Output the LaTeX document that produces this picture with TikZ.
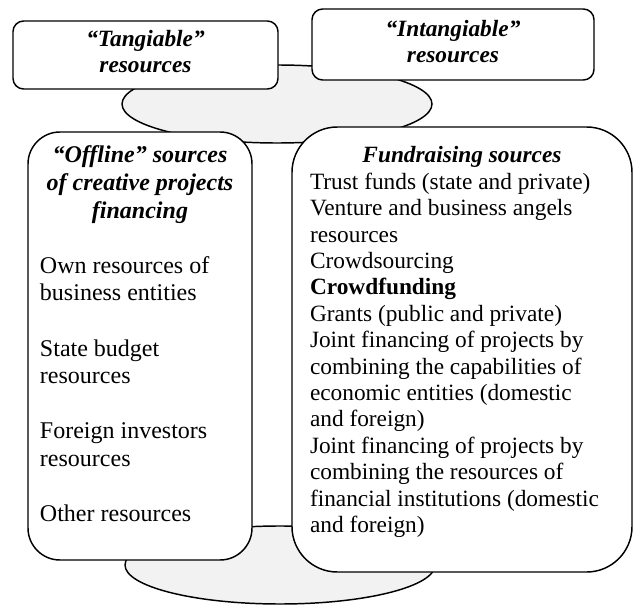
\documentclass[tikz,border=0pt]{standalone}
\usepackage{fontspec}
\setmainfont{Liberation Serif}[Ligatures={TeX,NoCommon}]
\definecolor{ellfill}{RGB}{242,242,242}
\newcommand\fTop{\fontsize{17.5}{19.5}\selectfont}
\newcommand\fOff{\fontsize{18}{20.7}\selectfont}
\newcommand\fFund{\fontsize{17.5}{19.8}\selectfont}
\newcommand\tp{\rule{0pt}{14pt}}
\begin{document}
\begin{tikzpicture}[x=0.75pt,y=-0.75pt,line width=1.1pt,
  disc/.style={draw=black,fill=ellfill},
  smallbox/.style={draw=black,fill=white,rounded corners=8pt},
  bigbox/.style={draw=black,fill=white,rounded corners=24pt},
  hugebox/.style={draw=black,fill=white,rounded corners=34pt},
  txt/.style={inner sep=0pt,outer sep=0pt}]
\useasboundingbox (0,0) rectangle (633,610);
% cylinder-like discs
\draw[disc] (277,104) ellipse [x radius=116.25pt, y radius=29.25pt];
\draw[disc] (280,565) ellipse [x radius=116.25pt, y radius=29.25pt];
% boxes
\draw[smallbox] (13,21) rectangle (278,89);
\draw[smallbox] (312,9) rectangle (594,80);
\draw[bigbox] (28,132) rectangle (252,560);
\draw[hugebox] (292,127) rectangle (632,572);
% texts
\node[txt,anchor=north,align=center,font=\fTop\bfseries\itshape] (tang) at (145.5,28.3)
  {\tp{}“Tangiable”\\resources};
\node[txt,anchor=north,align=center,font=\fTop\bfseries\itshape] (intang) at (453,17.8)
  {\tp{}“Intangiable”\\resources};
\node[txt,anchor=north,align=center,font=\fOff\bfseries\itshape] (offt) at (140,144.3)
  {\tp{}“Offline” sources\\of creative projects\\financing};
\node[txt,anchor=north west,align=left,font=\fOff] (offb) at (40,254.7)
  {\tp{}Own resources of\\business entities\\[20.7pt]State budget\\resources\\[20.7pt]Foreign investors\\resources\\[20.7pt]Other resources};
\node[txt,anchor=north,font=\fFund\bfseries\itshape] (fundt) at (462,144.3)
  {\tp{}Fundraising sources};
\node[txt,anchor=north west,align=left,font=\fFund] (fundb) at (310,170.7)
  {\tp{}Trust funds (state and private)\\Venture and business angels\\resources\\Crowdsourcing\\\textbf{Crowdfunding}\\Grants (public and private)\\Joint financing of projects by\\combining the capabilities of\\economic entities (domestic\\and foreign)\\Joint financing of projects by\\combining the resources of\\financial institutions (domestic\\and foreign)};
\end{tikzpicture}
\end{document}
